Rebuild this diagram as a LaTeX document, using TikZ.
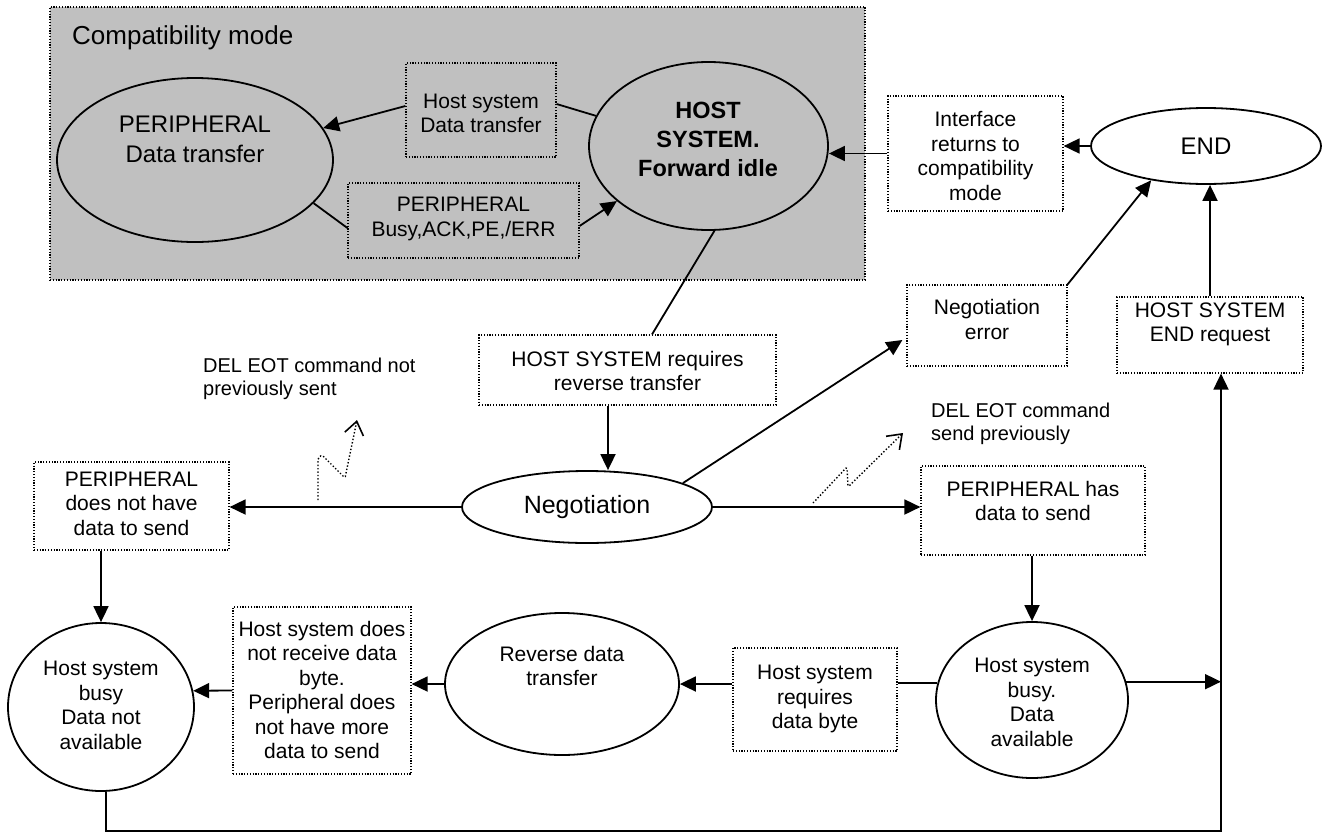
\documentclass[tikz,border=0pt]{standalone}
\usepackage{fontspec}
\setmainfont{Liberation Sans}
\usetikzlibrary{shapes.geometric,arrows.meta,calc}
\definecolor{cmgray}{HTML}{C0C0C0}
\newcommand{\fsbox}{\fontsize{21}{24.5}\selectfont}
\newcommand{\fsbig}{\fontsize{24}{30}\selectfont}
\newcommand{\fshfi}{\fontsize{23.5}{29}\selectfont\bfseries}
\newcommand{\fsneg}{\fontsize{25}{30}\selectfont}
\newcommand{\fscm}{\fontsize{26}{30}\selectfont}
\newcommand{\fsdel}{\fontsize{20}{23.5}\selectfont}
\begin{document}
\begin{tikzpicture}[x=1pt,y=-1pt,
  ell/.style={draw,ellipse,line width=1.8pt,inner sep=0pt},
  dbox/.style={draw,rectangle,line width=1.2pt,dash pattern=on 1.2pt off 1.6pt,inner sep=0pt},
  txt/.style={inner sep=0pt,align=center,font=\fsbox},
  arr/.style={line width=1.8pt,-{Triangle[length=16pt,width=15pt]}},
  conn/.style={line width=1.8pt},
  zig/.style={line width=1.4pt,dash pattern=on 1.4pt off 2pt,rounded corners=1.5pt,-{Straight Barb[length=13pt,width=19pt,line width=1.6pt]}}
]
\useasboundingbox (0,0) rectangle (1328,833);

% compatibility mode area
\node[dbox,fill=cmgray,minimum width=815pt,minimum height=273pt] (cm) at (457.5,143.5) {};
\node[txt,anchor=base west,font=\fscm] (cmt) at (72,44) {Compatibility mode};

\node[ell,minimum width=276pt,minimum height=164pt] (pde) at (195,160) {};
\node[txt,font=\fsbig] (pdet) at (195,139) {PERIPHERAL\\Data transfer};

\node[dbox,minimum width=150pt,minimum height=94pt] (hsdt) at (481,110) {};
\node[txt] (hsdtt) at (481,113.5) {Host system\\Data transfer};

\node[dbox,minimum width=231pt,minimum height=75pt] (busy) at (463.5,220.5) {};
\node[txt] (busyt) at (463.5,219) {PERIPHERAL\\Busy,ACK,PE,/ERR};

\node[ell,minimum width=239pt,minimum height=168pt] (hfi) at (708.5,146) {};
\node[txt,font=\fshfi] (hfit) at (708,139) {HOST\\SYSTEM.\\Forward idle};

\draw[arr] ($(hsdt.west)+(0,-4)$) -- (pde.14);
\draw[conn] ($(hsdt.east)+(0,-6)$) -- (hfi.165);
\draw[conn] (pde.-20) -- ($(busy.west)+(0,7.5)$);
\draw[arr] ($(busy.east)+(0,5.5)$) -- (hfi.211);

% right top
\node[dbox,minimum width=175pt,minimum height=115pt] (ib) at (975.5,153.5) {};
\node[txt] (ibt) at (975.5,156) {Interface\\returns to\\compatibility\\mode};

\node[ell,minimum width=230pt,minimum height=76pt] (endn) at (1206,146) {};
\node[txt,font=\fsbig] (endt) at (1206,146) {END};

\draw[arr] (endn.west) -- (endn.west -| ib.east);
\draw[arr] (ib.west) -- (ib.west -| hfi.east);

\node[dbox,minimum width=160pt,minimum height=81pt] (ne) at (987,325.5) {};
\node[txt] (net) at (987,319.5) {Negotiation\\error};
\draw[arr] (ne.north east) -- (endn.212);

\node[dbox,minimum width=186pt,minimum height=76pt] (er) at (1210,335) {};
\node[txt] (ert) at (1210,324.5) {HOST SYSTEM\\END request};
\draw[arr] (er.north) -- (er.north |- endn.south);

% middle
\node[dbox,minimum width=297pt,minimum height=70pt] (hrr) at (627.5,370) {};
\node[txt] (hrrt) at (627.5,371) {HOST SYSTEM requires\\reverse transfer};
\draw[conn] (hfi.-86) -- ($(hrr.north)+(24.5,0)$);

\node[ell,minimum width=250pt,minimum height=72pt] (neg) at (587,507) {};
\node[txt,font=\fsneg] (negt) at (587,507) {Negotiation};
\coordinate (hrrb) at ($(hrr.south)+(-19.5,0)$);
\draw[arr] (hrrb) -- (hrrb |- neg.north);
\draw[arr] (neg.14) -- ($(ne.west)+(-4,14.5)$);

\node[dbox,minimum width=195pt,minimum height=88pt] (pnd) at (131.5,506) {};
\node[txt] (pndt) at (131.5,503.5) {PERIPHERAL\\does not have\\data to send};
\draw[arr] (neg.west) -- (neg.west -| pnd.east);

\node[dbox,minimum width=224pt,minimum height=89pt] (phd) at (1033,510.5) {};
\node[txt] (phdt) at (1033,501) {PERIPHERAL has\\data to send};
\draw[arr] (neg.east) -- (neg.east -| phd.west);

\node[txt,align=left,anchor=north west,font=\fsdel] (d1) at (203,357.5) {DEL EOT command not\\previously sent};
\node[txt,align=left,anchor=north west,font=\fsdel] (d2) at (931,402.5) {DEL EOT command\\send previously};

\draw[zig] (318,500) -- (318,458) -- (322,455) -- (345,478) -- (357,420);
\draw[zig] (813,503) -- (847,467) -- (848,487) -- (903,433);

% bottom row
\node[ell,minimum width=192pt,minimum height=156pt] (hda) at (1032,700) {};
\node[txt] (hdat) at (1032,702.5) {Host system\\busy.\\Data\\available};
\draw[arr] (phd.south -| hda.north) -- (hda.north);

\node[dbox,minimum width=164pt,minimum height=103pt] (hdb) at (815,699.5) {};
\node[txt] (hdbt) at (815,699) {Host system\\requires\\data byte};
\draw[conn] (hda.170) -- (hda.170 -| hdb.east);

\node[ell,minimum width=234pt,minimum height=142pt] (rdt) at (562,684) {};
\node[txt] (rdtt) at (562,666) {Reverse data\\transfer};
\draw[arr] (rdt.east -| hdb.west) -- (rdt.east);

\node[dbox,minimum width=178pt,minimum height=167pt] (dnr) at (322,690.5) {};
\node[txt] (dnrt) at (322,690) {Host system does\\not receive data\\byte.\\Peripheral does\\not have more\\data to send};
\draw[arr] (rdt.west) -- (rdt.west -| dnr.east);

\node[ell,minimum width=186pt,minimum height=168pt] (hnd) at (101,707) {};
\node[txt] (hndt) at (101,705.5) {Host system\\busy\\Data not\\available};
\draw[arr] (dnr.west) -- (hnd.10);
\draw[arr] (pnd.south -| hnd.north) -- (hnd.north);

\coordinate (lb) at (106,831);
\coordinate (lr) at (1221,831);
\draw[arr] (hnd.south -| lb) -- (lb) -- (lr) -- (lr |- er.south);
\draw[arr] (hda.11) -- (hda.11 -| lr);
\end{tikzpicture}
\end{document}
